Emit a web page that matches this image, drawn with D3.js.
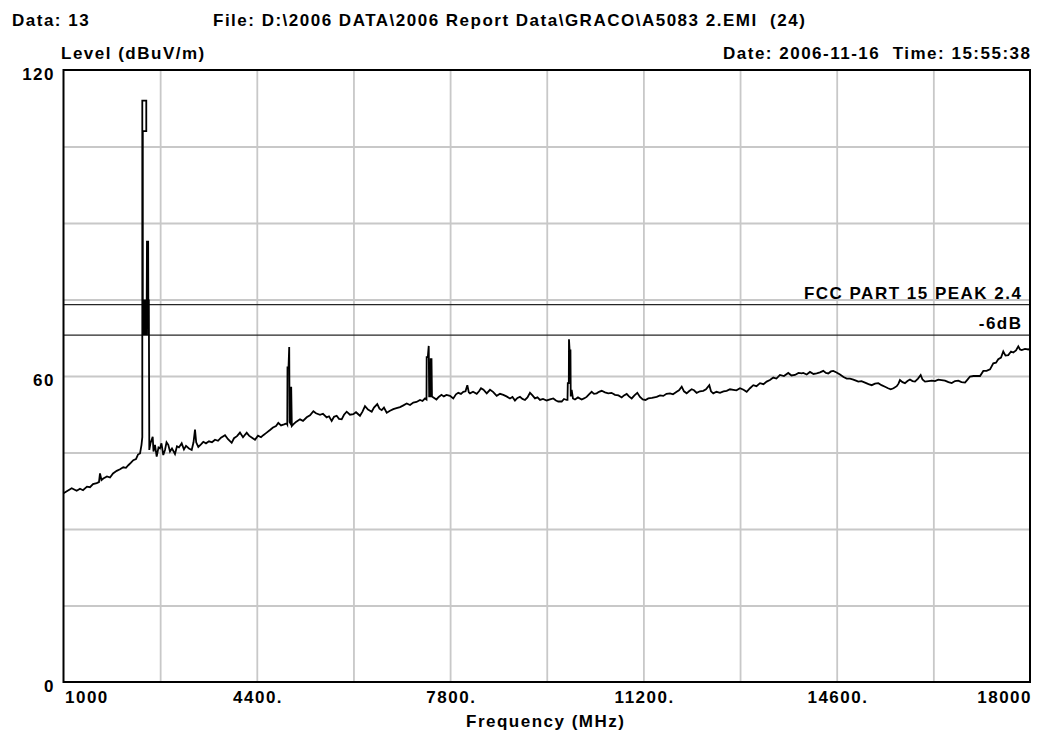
<!DOCTYPE html>
<html>
<head>
<meta charset="utf-8">
<script src="https://cdn.jsdelivr.net/npm/d3@7"></script>
<style>
  html, body { margin: 0; padding: 0; background: #fff; }
  svg { display: block; }
  text { font-family: "Liberation Sans", Arial, sans-serif; font-weight: bold; font-size: 17px; letter-spacing: 1.5px; fill: #000; white-space: pre; }
</style>
</head>
<body>
<svg id="chart" width="1048" height="736"></svg>
<script>
// Header texts
const headerLeft = "Data: 13";
const headerFile = "File: D:\\2006 DATA\\2006 Report Data\\GRACO\\A5083 2.EMI  (24)";
const headerDate = "Date: 2006-11-16  Time: 15:55:38";
const yTitle = "Level (dBuV/m)";
const xTitle = "Frequency (MHz)";

// Axis ticks
const xDomain = [1000, 18000];
const yDomain = [0, 120];
const xTickValues = [1000, 4400, 7800, 11200, 14600, 18000];
const xTickLabels = ["1000", "4400.", "7800.", "11200.", "14600.", "18000"];
const xGridStep = 1700;
const yTickValues = [0, 60, 120];
const yTickLabels = ["0", "60", "120"];
const yGridStep = 15;

// Limit lines
const limitNames = ["FCC PART 15 PEAK 2.4", "-6dB"];
const limitLevels = [74, 68];

// Measured sweep: frequency (MHz) and level (dBuV/m)
const freqMHz = [
  1000, 1044, 1144, 1232, 1290, 1343, 1413, 1466, 1519, 1584, 1624, 1642, 1668, 1700, 1765, 1818, 1871, 1936, 1994, 2052,
  2099, 2140, 2187, 2228, 2275, 2310, 2346, 2372, 2386, 2386, 2456, 2456, 2395, 2395, 2409, 2423, 2437, 2451, 2461, 2468,
  2479, 2489, 2494, 2501, 2509, 2530, 2569, 2583, 2609, 2639, 2671, 2697, 2723, 2755, 2785, 2812, 2843, 2873, 2908, 2961,
  2996, 3031, 3079, 3119, 3155, 3207, 3255, 3287, 3313, 3334, 3371, 3418, 3459, 3506, 3559, 3612, 3665, 3718, 3770, 3841,
  3894, 3958, 3999, 4052, 4104, 4157, 4222, 4263, 4316, 4368, 4421, 4474, 4514, 4562, 4632, 4685, 4738, 4778, 4826, 4879,
  4926, 4936, 4940, 4958, 4970, 4977, 4998, 5005, 5016, 5042, 5089, 5160, 5213, 5278, 5336, 5395, 5441, 5512, 5564, 5629,
  5670, 5717, 5758, 5805, 5846, 5893, 5934, 5981, 6039, 6097, 6145, 6215, 6259, 6303, 6356, 6421, 6461, 6519, 6558, 6597,
  6637, 6685, 6743, 6801, 6857, 6919, 6971, 7037, 7095, 7153, 7209, 7271, 7315, 7359, 7385, 7388, 7408, 7424, 7432, 7453,
  7459, 7473, 7481, 7494, 7560, 7600, 7648, 7689, 7736, 7798, 7856, 7903, 7944, 7991, 8032, 8071, 8103, 8129, 8150, 8203,
  8268, 8309, 8344, 8387, 8444, 8502, 8555, 8620, 8678, 8736, 8792, 8853, 8897, 8941, 8985, 9029, 9073, 9117, 9161, 9205,
  9249, 9293, 9337, 9381, 9434, 9499, 9557, 9615, 9662, 9702, 9763, 9803, 9850, 9865, 9870, 9888, 9891, 9902, 9917, 9922,
  9938, 9961, 9996, 10049, 10114, 10155, 10202, 10243, 10290, 10331, 10378, 10419, 10466, 10524, 10582, 10639, 10700, 10762, 10818, 10859,
  10906, 10946, 10994, 11043, 11093, 11140, 11188, 11237, 11286, 11351, 11434, 11492, 11550, 11606, 11668, 11721, 11785, 11826, 11874, 11914,
  11961, 12002, 12049, 12090, 12137, 12195, 12253, 12301, 12359, 12389, 12429, 12486, 12547, 12609, 12665, 12723, 12781, 12837, 12899, 12961,
  13017, 13075, 13133, 13189, 13251, 13312, 13368, 13426, 13484, 13540, 13602, 13672, 13748, 13804, 13866, 13928, 13984, 14012, 14072, 14130,
  14192, 14248, 14306, 14364, 14411, 14452, 14499, 14540, 14597, 14658, 14720, 14776, 14834, 14892, 14939, 14980, 15036, 15098, 15160, 15216,
  15274, 15332, 15388, 15450, 15503, 15550, 15599, 15656, 15687, 15713, 15757, 15801, 15845, 15889, 15933, 15977, 16030, 16077, 16109, 16153,
  16215, 16271, 16329, 16387, 16443, 16505, 16566, 16623, 16681, 16739, 16795, 16857, 16901, 16945, 17006, 17068, 17121, 17179, 17236, 17297,
  17354, 17402, 17442, 17490, 17530, 17569, 17618, 17666, 17706, 17754, 17794, 17824, 17854, 17912, 17970, 18000
];
const levelDb = [
  37.0, 37.3, 38.0, 37.5, 37.9, 37.6, 38.3, 38.2, 38.8, 39.0, 39.2, 40.9, 39.6, 39.9, 40.3, 40.1, 40.9, 41.4, 41.7, 42.1,
  42.0, 42.5, 43.0, 43.5, 43.7, 44.6, 44.8, 46.5, 48.0, 114.0, 114.0, 108.0, 108.0, 75.0, 68.0, 75.0, 68.0, 75.0, 68.0, 86.5,
  72.0, 86.5, 68.0, 75.0, 45.5, 46.8, 48.1, 45.2, 46.5, 44.2, 46.0, 45.8, 46.8, 44.5, 45.5, 47.0, 46.5, 45.2, 45.8, 44.7,
  46.2, 46.0, 46.8, 45.6, 46.3, 45.8, 45.5, 47.0, 49.5, 47.0, 46.1, 46.6, 47.1, 46.8, 47.2, 47.0, 47.5, 47.3, 47.9, 48.4,
  47.6, 46.9, 47.8, 48.2, 48.9, 48.0, 48.9, 48.3, 47.9, 47.5, 48.3, 48.0, 48.4, 48.8, 49.4, 49.9, 50.2, 50.8, 50.3, 50.5,
  50.7, 50.5, 61.7, 61.7, 65.7, 51.0, 50.6, 57.9, 50.2, 50.5, 51.0, 51.5, 51.2, 51.9, 52.3, 53.1, 52.7, 52.4, 52.6, 51.9,
  52.1, 51.2, 52.0, 52.2, 51.6, 51.5, 52.4, 53.0, 52.4, 52.5, 52.9, 52.2, 53.0, 54.1, 53.4, 53.0, 53.8, 54.5, 53.6, 53.3,
  53.8, 52.8, 53.2, 53.5, 53.7, 53.9, 54.2, 54.6, 54.3, 54.8, 54.9, 55.3, 55.1, 55.6, 55.4, 63.7, 63.7, 65.9, 56.0, 56.0,
  63.3, 63.3, 56.0, 55.9, 55.4, 55.9, 56.3, 56.0, 56.3, 56.1, 55.6, 56.4, 56.7, 56.5, 56.9, 57.0, 58.2, 56.8, 56.6, 56.9,
  56.5, 57.0, 57.6, 57.3, 56.6, 57.3, 56.9, 56.1, 56.5, 56.3, 56.0, 55.6, 55.9, 55.2, 55.7, 55.9, 55.5, 55.3, 55.8, 56.7,
  56.2, 55.6, 55.8, 55.3, 55.5, 55.2, 55.4, 55.6, 55.2, 55.0, 55.0, 55.5, 55.3, 55.3, 58.6, 58.6, 67.2, 65.0, 65.0, 56.0,
  57.3, 55.6, 55.4, 55.8, 55.4, 55.6, 55.9, 56.4, 56.9, 56.5, 56.6, 56.9, 57.1, 56.8, 56.6, 56.7, 56.3, 56.2, 55.8, 56.2,
  56.5, 56.0, 55.6, 56.2, 56.7, 55.9, 55.4, 55.3, 55.6, 55.7, 55.9, 56.2, 56.1, 56.5, 56.6, 56.4, 56.9, 57.2, 57.9, 57.0,
  56.6, 57.0, 57.4, 57.2, 56.7, 57.0, 57.1, 57.4, 58.2, 57.0, 56.6, 56.9, 56.7, 57.0, 57.1, 57.4, 57.3, 57.2, 57.6, 57.3,
  56.9, 57.6, 58.2, 58.0, 58.6, 58.4, 58.9, 59.2, 59.7, 59.5, 60.2, 60.0, 60.6, 60.1, 60.2, 60.6, 60.5, 60.6, 60.3, 60.8,
  60.4, 60.5, 60.7, 61.0, 60.6, 60.5, 60.9, 61.0, 60.7, 60.3, 59.8, 59.5, 59.5, 59.3, 59.1, 58.9, 59.0, 58.7, 58.4, 58.2,
  58.5, 58.6, 58.2, 57.9, 57.6, 57.4, 57.6, 58.0, 58.5, 59.2, 58.8, 58.6, 59.0, 59.3, 59.0, 58.9, 59.5, 60.2, 59.3, 58.9,
  59.0, 59.1, 59.0, 59.3, 59.2, 59.1, 58.8, 58.6, 59.0, 59.1, 58.8, 58.7, 59.3, 59.9, 60.0, 60.0, 60.0, 61.0, 61.0, 61.3,
  62.5, 62.6, 63.3, 63.6, 64.8, 64.0, 64.1, 64.8, 64.6, 65.0, 65.8, 65.2, 65.1, 65.3, 65.2, 65.3
];

const svg = d3.select("#chart");
const plot = { left: 63.5, right: 1030, top: 70, bottom: 682 };
const trail = 1.5; // letter-spacing added after the last glyph

const x = d3.scaleLinear().domain(xDomain).range([plot.left, plot.right]);
const y = d3.scaleLinear().domain(yDomain).range([plot.bottom, plot.top]);

// Grid
const xGrid = d3.range(xDomain[0] + xGridStep, xDomain[1], xGridStep);
const yGrid = d3.range(yDomain[0] + yGridStep, yDomain[1], yGridStep);

svg.append("g")
  .attr("transform", `translate(0,${plot.bottom})`)
  .call(d3.axisBottom(x).tickValues(xGrid).tickSize(-(plot.bottom - plot.top)).tickFormat(""))
  .call(g => g.select(".domain").remove())
  .call(g => g.selectAll(".tick line").attr("stroke", "#c8c8c8").attr("stroke-width", 1.8));

svg.append("g")
  .attr("transform", `translate(${plot.left},0)`)
  .call(d3.axisLeft(y).tickValues(yGrid).tickSize(-(plot.right - plot.left)).tickFormat(""))
  .call(g => g.select(".domain").remove())
  .call(g => g.selectAll(".tick line").attr("stroke", "#c8c8c8").attr("stroke-width", 1.8));

// Limit lines with their names
const limits = limitNames.map((name, i) => ({ name, level: limitLevels[i] }));
svg.append("g").selectAll("line").data(limits).join("line")
  .attr("x1", plot.left).attr("x2", plot.right)
  .attr("y1", d => y(d.level)).attr("y2", d => y(d.level))
  .attr("stroke", "#262626").attr("stroke-width", 1.3);
svg.append("g").selectAll("text").data(limits).join("text")
  .attr("x", plot.right - 9 + trail)
  .attr("y", d => y(d.level) - 6)
  .attr("text-anchor", "end")
  .text(d => d.name);

// Trace
const points = freqMHz.map((f, i) => [f, levelDb[i]]);
svg.append("path")
  .datum(points)
  .attr("fill", "none")
  .attr("stroke", "#000")
  .attr("stroke-width", 1.8)
  .attr("stroke-linejoin", "miter")
  .attr("d", d3.line().x(d => x(d[0])).y(d => y(d[1])));

// Frame
svg.append("rect")
  .attr("x", plot.left).attr("y", plot.top)
  .attr("width", plot.right - plot.left).attr("height", plot.bottom - plot.top)
  .attr("fill", "none").attr("stroke", "#000").attr("stroke-width", 2);

// Axis labels
const xAxis = svg.append("g")
  .attr("transform", `translate(0,${plot.bottom})`)
  .call(d3.axisBottom(x).tickValues(xTickValues).tickSize(0).tickPadding(21)
    .tickFormat((d, i) => xTickLabels[i]));
xAxis.select(".domain").remove();
xAxis.selectAll("text").attr("font-size", null).attr("font-family", null).attr("fill", "#000")
  .attr("dy", null)
  .attr("text-anchor", (d, i) => i === 0 ? "start" : (i === xTickValues.length - 1 ? "end" : "middle"))
  .attr("dx", (d, i) => i === 0 ? 1 : (i === xTickValues.length - 1 ? trail : trail / 2));

const yAxis = svg.append("g")
  .attr("transform", `translate(${plot.left - 10 + trail},0)`)
  .call(d3.axisLeft(y).tickValues(yTickValues).tickSize(0).tickPadding(0)
    .tickFormat((d, i) => yTickLabels[i]));
yAxis.select(".domain").remove();
yAxis.selectAll("text").attr("font-size", null).attr("font-family", null).attr("fill", "#000")
  .attr("dy", "0.55em");

// Titles and header
svg.append("text").attr("x", 12).attr("y", 26).text(headerLeft);
svg.append("text").attr("x", 213).attr("y", 26).text(headerFile);
svg.append("text").attr("x", 1030 + trail).attr("y", 59).attr("text-anchor", "end").text(headerDate);
svg.append("text").attr("x", 61).attr("y", 59).text(yTitle);
svg.append("text").attr("x", 545 + trail / 2).attr("y", 727).attr("text-anchor", "middle").text(xTitle);
</script>
</body>
</html>
